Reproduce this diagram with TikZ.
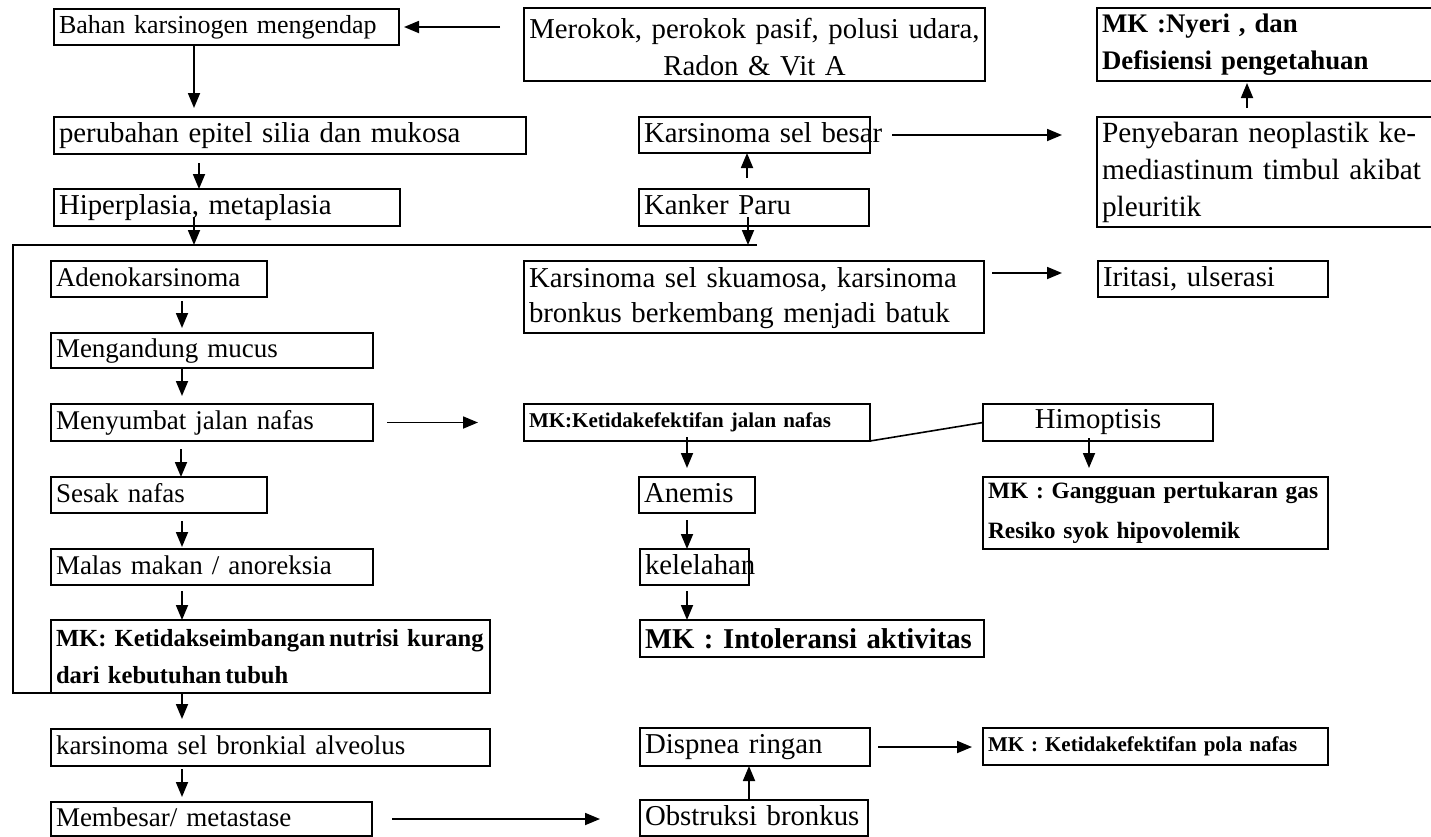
\documentclass[tikz,border=0pt]{standalone}
\usepackage{fontspec}
\setmainfont{Liberation Serif}
\usetikzlibrary{arrows.meta}
\tikzset{
  box/.style={draw, line width=2pt, rectangle, inner xsep=5pt, inner ysep=0pt, outer sep=0pt, align=left,
    font=\fontsize{28.8}{37}\selectfont},
  lcol/.style={font=\fontsize{27}{35}\selectfont},
  small/.style={font=\fontsize{26}{35}\selectfont},
  arr/.style={line width=1.8pt, -{Triangle[length=15pt,width=12pt]}},
  ln/.style={line width=1.6pt},
  mksmall/.style={font=\bfseries\fontsize{21}{26}\selectfont},
  mkmid/.style={font=\bfseries\fontsize{23.4}{40}\selectfont},
  mkbig/.style={font=\bfseries\fontsize{26.8}{37}\selectfont},
  mknut/.style={font=\bfseries\fontsize{24.6}{37}\selectfont},
  mkhuge/.style={font=\bfseries\fontsize{28.7}{35}\selectfont},
}
\newcommand\mkst{\rule[-5pt]{0pt}{24pt}}
\newcommand\mkbox[7][]{%
  \pgfmathsetmacro\mkW{#5-#3}%
  \pgfmathsetmacro\mkH{#6-#4}%
  \pgfmathsetmacro\mkT{#5-#3-10}%
  \node[box,minimum width=\mkW pt,minimum height=\mkH pt,text width=\mkT pt,anchor=north west,#1] (#2) at (#3,#4) {#7};}
\begin{document}
\begin{tikzpicture}[x=1pt,y=-1pt]
\useasboundingbox (0,0) rectangle (1431,836);
% left column
\mkbox[small]{bahan}{54}{9}{399}{45}{\mbox{Bahan karsinogen mengendap}}
\mkbox{perubahan}{54}{117}{526}{154}{\mkst\mbox{perubahan epitel silia dan mukosa}}
\mkbox{hiper}{54}{189}{400}{226}{\mkst\mbox{Hiperplasia, metaplasia}}
\mkbox[lcol]{adeno}{51}{261}{267}{297}{\mkst\mbox{Adenokarsinoma}}
\mkbox[lcol]{mucus}{51}{333}{373}{368}{\mkst\mbox{Mengandung mucus}}
\mkbox[lcol]{menyumbat}{51}{404}{373}{441}{\mkst\mbox{Menyumbat jalan nafas}}
\mkbox[lcol]{sesak}{51}{477}{267}{513}{\mkst\mbox{Sesak nafas}}
\mkbox[lcol]{malas}{51}{549}{373}{585}{\mkst\mbox{Malas makan / anoreksia}}
\mkbox[mknut]{nutrisi}{51}{620}{490}{693}{\mbox{MK: Ketidakseimbangan\hspace{4pt}nutrisi kurang}\\\mbox{dari kebutuhan\hspace{4pt}tubuh}}
\mkbox[lcol]{bronkial}{51}{729}{490}{766}{\mkst\mbox{karsinoma sel bronkial alveolus}}
\mkbox[lcol]{membesar}{51}{802}{372}{836}{\mkst\mbox{Membesar/ metastase}}
% middle column
\mkbox[align=center]{merokok}{524}{8}{985}{81}{\rule{0pt}{26pt}\mbox{Merokok, perokok pasif, polusi udara,}\\\mbox{Radon \& Vit A}}
\mkbox{besar}{639}{117}{870}{153}{\mkst\mbox{Karsinoma sel besar}}
\mkbox{kanker}{639}{189}{869}{226}{\mkst\mbox{Kanker Paru}}
\mkbox[font=\fontsize{28.8}{35}\selectfont]{skuamosa}{524}{261}{984}{333}{\rule{0pt}{23pt}\mbox{Karsinoma sel skuamosa, karsinoma}\\\mbox{bronkus berkembang menjadi batuk}}
\mkbox[mksmall]{mkjalan}{524}{404}{870}{441}{\mbox{MK:Ketidakefektifan jalan nafas}}
\mkbox{anemis}{639}{477}{755}{513}{\mkst\mbox{Anemis}}
\mkbox{lelah}{640}{549}{749}{585}{\mkst\mbox{kelelahan}}
\mkbox[mkhuge]{intol}{640}{620}{984}{657}{\mbox{MK : Intoleransi aktivitas}}
\mkbox{dispnea}{640}{728}{870}{766}{\mkst\mbox{Dispnea ringan}}
\mkbox{obstruksi}{640}{800}{868}{836}{\mkst\mbox{Obstruksi bronkus}}
% right column
\mkbox[mkbig]{nyeri}{1097}{8}{1436}{81}{\mbox{MK :Nyeri , dan}\\\mbox{Defisiensi pengetahuan}}
\mkbox[font=\fontsize{29.3}{37}\selectfont]{penyeb}{1097}{117}{1436}{227}{\mbox{Penyebaran neoplastik ke-}\\\mbox{mediastinum timbul akibat}\\\mbox{pleuritik}}
\mkbox{iritasi}{1098}{261}{1328}{297}{\mkst\mbox{Iritasi, ulserasi}}
\mkbox[align=center]{himop}{983}{404}{1213}{441}{\mkst\mbox{Himoptisis}}
\mkbox[mkmid]{gangguan}{983}{477}{1328}{549}{\mbox{MK : Gangguan pertukaran gas}\\\mbox{Resiko syok hipovolemik}}
\mkbox[mksmall]{pola}{983}{728}{1328}{765}{\mbox{MK : Ketidakefektifan pola nafas}}
% bracket
\coordinate (brTL) at (13,245);
\coordinate (brTR) at (757,245);
\coordinate (brBL) at (13,693);
\draw[ln] (brTR) -- (brTL) -- (brBL) -- (nutrisi.south west);
% connectors
\draw[arr,shorten <=24pt,shorten >=5pt] (bahan.east -| merokok.west) -- (bahan.east);
\draw[arr,shorten >=9pt] ([xshift=140pt]bahan.south west) -- ([xshift=140pt]bahan.south west |- perubahan.north);
\draw[arr,shorten <=9pt] ([xshift=145pt]perubahan.south west) -- ([xshift=145pt]perubahan.south west |- hiper.north);
\draw[arr] ([xshift=140pt,yshift=9pt]hiper.south west) -- ([xshift=140pt]hiper.south west |- brTL);
\draw[arr] ([xshift=109pt,yshift=9pt]kanker.south west) -- ([xshift=109pt]kanker.south west |- brTR);
\draw[arr] ([xshift=108pt,yshift=11pt]kanker.north west) -- ([xshift=108pt]kanker.north west |- besar.south);
\draw[arr,shorten <=22pt,shorten >=35pt] (besar.east) -- (besar.east -| penyeb.west);
\draw[arr,shorten >=2pt] ([xshift=150pt,yshift=9pt]penyeb.north west) -- ([xshift=150pt]penyeb.north west |- nyeri.south);
\draw[arr,shorten <=8pt,shorten >=36pt] ([yshift=6pt]iritasi.west -| skuamosa.east) -- ([yshift=6pt]iritasi.west);
\draw[arr,shorten <=4pt,shorten >=5pt] ([xshift=131pt]adeno.south west) -- ([xshift=131pt]adeno.south west |- mucus.north);
\draw[arr,shorten >=8pt] ([xshift=131pt]mucus.south west) -- ([xshift=131pt]mucus.south west |- menyumbat.north);
\draw[arr,shorten <=14pt,shorten >=46pt] (menyumbat.east) -- (menyumbat.east -| mkjalan.west);
\draw[arr,shorten <=8pt] ([xshift=130pt]menyumbat.south west) -- ([xshift=130pt]menyumbat.south west |- sesak.north);
\draw[arr,shorten <=8pt,shorten >=2pt] ([xshift=131pt]sesak.south west) -- ([xshift=131pt]sesak.south west |- malas.north);
\draw[arr,shorten <=6pt] ([xshift=131pt]malas.south west) -- ([xshift=131pt]malas.south west |- nutrisi.north);
\draw[arr,shorten >=10pt] ([xshift=131pt]nutrisi.south west) -- ([xshift=131pt]nutrisi.south west |- bronkial.north);
\draw[arr,shorten <=3pt,shorten >=5pt] ([xshift=131pt]bronkial.south west) -- ([xshift=131pt]bronkial.south west |- membesar.north);
\draw[arr,shorten <=20pt,shorten >=40pt] (membesar.east) -- (membesar.east -| obstruksi.west);
\draw[arr,shorten >=9pt] ([xshift=163pt,yshift=4pt]mkjalan.south west) -- ([xshift=163pt]mkjalan.south west |- anemis.north);
\draw[ln] (mkjalan.south east) -- (himop.west);
\draw[arr,shorten <=7pt] ([xshift=48pt]anemis.south west) -- ([xshift=48pt]anemis.south west |- lelah.north);
\draw[arr,shorten <=6pt] ([xshift=47pt]lelah.south west) -- ([xshift=47pt]lelah.south west |- intol.north);
\draw[arr,shorten >=9pt] ([xshift=106pt,yshift=3pt]himop.south west) -- ([xshift=106pt]himop.south west |- gangguan.north);
\draw[arr,shorten <=8pt,shorten >=11pt] (dispnea.east) -- (dispnea.east -| pola.west);
\draw[arr] ([xshift=109pt]obstruksi.north west) -- ([xshift=109pt]obstruksi.north west |- dispnea.south);
\end{tikzpicture}
\end{document}
